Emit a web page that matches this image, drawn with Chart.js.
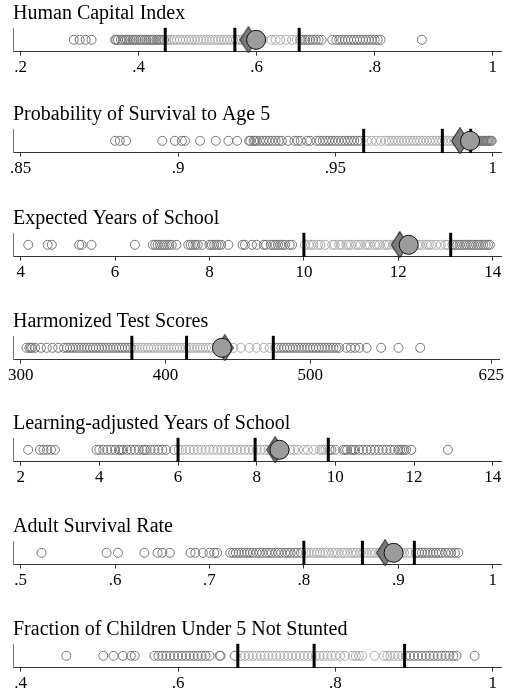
<!DOCTYPE html>
<html>
<head>
<meta charset="utf-8">
<script src="https://cdn.jsdelivr.net/npm/chart.js@4.4.1/dist/chart.umd.min.js"></script>
<style>
  html, body { margin: 0; padding: 0; background: #fff; }
  #wrap { position: relative; width: 506px; height: 694px; overflow: hidden; }
  .panel { position: absolute; left: 0; width: 506px; height: 80px; }
</style>
</head>
<body>
<div id="wrap"></div>
<script>
// Human Capital Index
const hciValues = [0.29, 0.30, 0.31, 0.32,
  0.36, 0.362, 0.365, 0.37, 0.373, 0.377, 0.38, 0.383, 0.386, 0.39, 0.393, 0.396, 0.40, 0.403, 0.406,
  0.41, 0.413, 0.417, 0.42, 0.423, 0.426, 0.43, 0.433, 0.436, 0.44, 0.443,
  0.447, 0.45, 0.455, 0.46, 0.465, 0.47, 0.475, 0.48, 0.485, 0.49, 0.495, 0.50, 0.505, 0.51, 0.515,
  0.52, 0.525, 0.53, 0.535, 0.54, 0.545, 0.55, 0.555, 0.56, 0.565, 0.57, 0.575, 0.58, 0.585, 0.59,
  0.61, 0.625, 0.632, 0.64, 0.65, 0.66, 0.668,
  0.674, 0.678, 0.682, 0.686, 0.69, 0.695, 0.70, 0.705, 0.71, 0.728, 0.735, 0.74,
  0.745, 0.75, 0.755, 0.76, 0.765, 0.77, 0.775, 0.78, 0.785, 0.79, 0.795, 0.80, 0.805, 0.81, 0.88];
const hciQuartiles = [0.445, 0.563, 0.672];
const hciMean = 0.599;
const hciDiamond = 0.586;
const hciTicks = [0.2, 0.4, 0.6, 0.8, 1];
const hciTickLabels = ['.2', '.4', '.6', '.8', '1'];

// Probability of Survival to Age 5
const survValues = [0.880, 0.8815, 0.8835, 0.895, 0.899, 0.9012, 0.9022, 0.907, 0.912, 0.916, 0.9188,
  0.9226, 0.923, 0.924, 0.9245, 0.925, 0.926, 0.927, 0.928, 0.929, 0.930, 0.931, 0.932, 0.933, 0.935,
  0.937, 0.938, 0.939, 0.941, 0.942, 0.944, 0.945, 0.946, 0.947, 0.948, 0.949, 0.950, 0.951, 0.952,
  0.953, 0.954, 0.955, 0.956, 0.957, 0.958,
  0.960, 0.9615, 0.963, 0.9645, 0.966, 0.967, 0.968, 0.969, 0.970, 0.971, 0.972, 0.973, 0.974, 0.975,
  0.976, 0.977, 0.978, 0.979, 0.980, 0.981, 0.982, 0.983, 0.984, 0.985, 0.986, 0.987, 0.988, 0.989,
  0.990, 0.991, 0.992,
  0.9934, 0.9938, 0.9942, 0.9946, 0.995, 0.9954, 0.9958, 0.9962, 0.9966, 0.997, 0.9974, 0.9978,
  0.9982, 0.9986, 0.999, 0.9994, 0.9997];
const survQuartiles = [0.959, 0.984, 0.993];
const survMean = 0.9928;
const survDiamond = 0.9896;
const survTicks = [0.85, 0.9, 0.95, 1];
const survTickLabels = ['.85', '.9', '.95', '1'];

// Expected Years of School
const eysValues = [4.16, 4.57, 4.66, 5.24, 5.29, 5.5, 6.42,
  6.8, 6.85, 6.9, 6.95, 7.0, 7.05, 7.1, 7.15, 7.2, 7.3, 7.55, 7.6, 7.65, 7.7, 7.75, 7.85,
  8.0, 8.05, 8.1, 8.15, 8.2, 8.25, 8.4, 8.7, 8.75, 8.9, 9.0, 9.15, 9.2, 9.3, 9.35, 9.4, 9.45,
  9.5, 9.55, 9.6, 9.7, 9.75,
  10.02, 10.1, 10.15, 10.2, 10.3, 10.35, 10.45, 10.6, 10.65, 10.75, 10.8, 10.9, 10.95, 11.0, 11.1,
  11.15, 11.2, 11.3, 11.35, 11.4, 11.5, 11.55, 11.6, 11.7, 11.75, 11.8, 11.9, 11.95, 12.0, 12.1,
  12.2, 12.3, 12.4, 12.45, 12.5, 12.6, 12.65, 12.7, 12.8, 12.9, 13.0, 13.05,
  13.15, 13.2, 13.25, 13.3, 13.35, 13.4, 13.45, 13.5, 13.55, 13.6, 13.65, 13.7, 13.75, 13.8,
  13.85, 13.9, 13.94];
const eysQuartiles = [10.0, 12.03, 13.11];
const eysMean = 12.22;
const eysDiamond = 12.03;
const eysTicks = [4, 6, 8, 10, 12, 14];
const eysTickLabels = ['4', '6', '8', '10', '12', '14'];

// Harmonized Test Scores
const htsValues = [304, 306, 307, 308, 310, 314, 318, 322, 326, 330, 332, 334, 336, 338, 340, 342,
  344, 346, 348, 350, 352, 354, 356, 358, 360, 362, 364, 366, 368, 370, 372, 374, 376,
  378, 380, 382, 384, 386, 388, 390, 392, 394, 396, 398, 400, 402, 404, 406, 408, 410, 412, 414,
  416, 418, 420, 422, 424, 426, 428, 430, 432, 436, 447, 452, 458, 463, 468, 472,
  476, 478, 480, 482, 484, 486, 488, 490, 492, 494, 496, 498, 500, 502, 504, 506, 508, 510, 512,
  514, 516, 518, 520, 525, 528, 531, 534, 539, 549, 561, 576];
const htsQuartiles = [376.8, 414.6, 474.5];
const htsMean = 439;
const htsDiamond = 441;
const htsTicks = [300, 400, 500, 625];
const htsTickLabels = ['300', '400', '500', '625'];

// Learning-adjusted Years of School
const laysValues = [2.19, 2.49, 2.58, 2.67, 2.77, 2.87,
  3.93, 4.0, 4.1, 4.2, 4.3, 4.4, 4.5, 4.55, 4.6, 4.7, 4.8, 4.9, 5.0, 5.1, 5.15, 5.2, 5.3, 5.4,
  5.5, 5.6, 5.7, 5.9,
  6.02, 6.1, 6.2, 6.3, 6.4, 6.5, 6.6, 6.7, 6.8, 6.9, 7.0, 7.1, 7.2, 7.3, 7.4, 7.5, 7.6, 7.7, 7.8,
  7.9, 8.0, 8.1, 8.2, 8.3, 8.4, 8.5, 8.6, 8.7, 8.85, 8.95, 9.05, 9.2, 9.3, 9.45, 9.6, 9.65, 9.7, 9.75,
  9.85, 9.9, 10.0, 10.2, 10.25, 10.3, 10.4, 10.45, 10.5, 10.6, 10.7, 10.8, 10.9, 11.0, 11.1, 11.2,
  11.3, 11.4, 11.5, 11.6, 11.65, 11.7, 11.75, 11.8, 11.93, 12.86];
const laysQuartiles = [6.0, 7.96, 9.82];
const laysMean = 8.58;
const laysDiamond = 8.47;
const laysTicks = [2, 4, 6, 8, 10, 12, 14];
const laysTickLabels = ['2', '4', '6', '8', '10', '12', '14'];

// Adult Survival Rate
const asrValues = [0.522, 0.591, 0.603, 0.631, 0.645, 0.65, 0.658, 0.68, 0.685, 0.693, 0.70, 0.705,
  0.708, 0.722, 0.725, 0.728, 0.731, 0.734, 0.737, 0.74, 0.743, 0.746, 0.75, 0.753, 0.756, 0.76,
  0.763, 0.766, 0.77, 0.773, 0.776, 0.78, 0.783, 0.786, 0.79, 0.793, 0.797,
  0.802, 0.805, 0.808, 0.811, 0.814, 0.817, 0.82, 0.823, 0.826, 0.83, 0.833, 0.836, 0.84, 0.843,
  0.846, 0.85, 0.853, 0.856, 0.86, 0.863, 0.866, 0.87, 0.873, 0.876, 0.88, 0.883, 0.886, 0.89,
  0.893, 0.896, 0.90, 0.903, 0.906, 0.91, 0.913,
  0.919, 0.922, 0.925, 0.928, 0.931, 0.934, 0.937, 0.94, 0.943, 0.946, 0.95, 0.953, 0.956, 0.96, 0.9636];
const asrQuartiles = [0.80, 0.862, 0.917];
const asrMean = 0.895;
const asrDiamond = 0.886;
const asrTicks = [0.5, 0.6, 0.7, 0.8, 0.9, 1];
const asrTickLabels = ['.5', '.6', '.7', '.8', '.9', '1'];

// Fraction of Children Under 5 Not Stunted
const nsValues = [0.458, 0.505, 0.518, 0.530, 0.540, 0.545,
  0.57, 0.575, 0.58, 0.585, 0.59, 0.595, 0.60, 0.605, 0.61, 0.615, 0.62, 0.625, 0.63, 0.635, 0.64,
  0.653, 0.654, 0.672,
  0.68, 0.685, 0.69, 0.695, 0.70, 0.705, 0.71, 0.715, 0.72, 0.725, 0.73, 0.735, 0.74, 0.745, 0.75,
  0.755, 0.76, 0.765, 0.77, 0.775, 0.78, 0.785, 0.79, 0.795, 0.80, 0.806, 0.812, 0.822, 0.826, 0.83,
  0.834, 0.85, 0.862, 0.866, 0.87, 0.875, 0.88, 0.885,
  0.89, 0.895, 0.90, 0.905, 0.91, 0.915, 0.92, 0.925, 0.93, 0.935, 0.94, 0.945, 0.95, 0.954, 0.977];
const nsQuartiles = [0.676, 0.773, 0.888];
const nsTicks = [0.4, 0.6, 0.8, 1];
const nsTickLabels = ['.4', '.6', '.8', '1'];

const panelTitles = ['Human Capital Index', 'Probability of Survival to Age 5', 'Expected Years of School',
  'Harmonized Test Scores', 'Learning-adjusted Years of School', 'Adult Survival Rate',
  'Fraction of Children Under 5 Not Stunted'];

const panels = [
  { values: hciValues, q: hciQuartiles, mean: hciMean, diamond: hciDiamond, ticks: hciTicks, labels: hciTickLabels },
  { values: survValues, q: survQuartiles, mean: survMean, diamond: survDiamond, ticks: survTicks, labels: survTickLabels },
  { values: eysValues, q: eysQuartiles, mean: eysMean, diamond: eysDiamond, ticks: eysTicks, labels: eysTickLabels },
  { values: htsValues, q: htsQuartiles, mean: htsMean, diamond: htsDiamond, ticks: htsTicks, labels: htsTickLabels },
  { values: laysValues, q: laysQuartiles, mean: laysMean, diamond: laysDiamond, ticks: laysTicks, labels: laysTickLabels },
  { values: asrValues, q: asrQuartiles, mean: asrMean, diamond: asrDiamond, ticks: asrTicks, labels: asrTickLabels },
  { values: nsValues, q: nsQuartiles, mean: null, diamond: null, ticks: nsTicks, labels: nsTickLabels }
];

// canvas top for each strip (px)
const panelTops = [0, 101, 205, 308, 410, 513, 616];

const FONT = "'Liberation Serif', 'DejaVu Serif', serif";

// tall diamond marker (narrower than it is high)
const diamondImg = document.createElement('canvas');
diamondImg.width = 18;
diamondImg.height = 27;
(() => {
  const c = diamondImg.getContext('2d');
  c.beginPath();
  c.moveTo(9, 0.5);
  c.lineTo(17.5, 13.5);
  c.lineTo(9, 26.5);
  c.lineTo(0.5, 13.5);
  c.closePath();
  c.fillStyle = '#7c7c7c';
  c.fill();
  c.strokeStyle = '#111';
  c.lineWidth = 1;
  c.stroke();
})();

function renderPanel(p, i) {
  const div = document.createElement('div');
  div.className = 'panel';
  div.style.top = panelTops[i] + 'px';
  const canvas = document.createElement('canvas');
  canvas.width = 506;
  canvas.height = 80;
  div.appendChild(canvas);
  document.getElementById('wrap').appendChild(div);

  const lo = p.q[0], hi = p.q[p.q.length - 1];
  const inner = p.values.filter(v => v >= lo && v <= hi).map(v => ({ x: v, y: 0.5 }));
  const outer = p.values.filter(v => v < lo || v > hi).map(v => ({ x: v, y: 0.5 }));
  const min = p.ticks[0], max = p.ticks[p.ticks.length - 1];
  const range = max - min;

  new Chart(canvas.getContext('2d'), {
    type: 'scatter',
    data: {
      datasets: [
        { data: p.mean != null ? [{ x: p.mean, y: 0.5 }] : [], pointStyle: 'circle', pointRadius: 9.5,
          backgroundColor: '#9c9c9c', borderColor: '#111', borderWidth: 1, clip: false },
        { data: p.diamond != null ? [{ x: p.diamond, y: 0.5 }] : [], pointStyle: diamondImg, pointRadius: 13,
          clip: false },
        { data: p.q.map(v => ({ x: v, y: 0.5 })), pointStyle: 'line', rotation: 90, pointRadius: 12,
          borderColor: '#000', borderWidth: 3, clip: false },
        { data: inner, pointStyle: 'circle', pointRadius: 4.5, backgroundColor: 'rgba(0,0,0,0)',
          borderColor: '#acacac', borderWidth: 1, clip: false },
        { data: outer, pointStyle: 'circle', pointRadius: 4.5, backgroundColor: 'rgba(0,0,0,0)',
          borderColor: '#767676', borderWidth: 1, clip: false }
      ]
    },
    options: {
      responsive: false,
      animation: false,
      events: [],
      layout: { autoPadding: false, padding: { left: 13, right: 5, top: 0, bottom: 0 } },
      plugins: {
        legend: { display: false },
        tooltip: { enabled: false },
        title: {
          display: true, text: panelTitles[i], align: 'start', color: '#000',
          font: { family: FONT, size: 20, weight: 'normal' },
          padding: { top: 2, bottom: 2 }
        }
      },
      scales: {
        x: {
          type: 'linear',
          min: min - range * 0.0163,
          max: max + range * 0.0176,
          afterBuildTicks: axis => { axis.ticks = p.ticks.map(v => ({ value: v })); },
          ticks: {
            autoSkip: false, maxRotation: 0, padding: 2, color: '#000',
            font: { family: FONT, size: 17 },
            callback: (v, idx) => p.labels[idx]
          },
          grid: { display: true, drawOnChartArea: false, drawTicks: true, tickLength: 4, color: '#333' },
          border: { display: true, color: '#333', width: 1 }
        },
        y: {
          min: 0, max: 1,
          ticks: { display: false },
          grid: { display: false, drawTicks: false },
          border: { display: true, color: '#777', width: 1 }
        }
      }
    }
  });
}

panels.forEach((p, i) => renderPanel(p, i));
</script>
</body>
</html>
